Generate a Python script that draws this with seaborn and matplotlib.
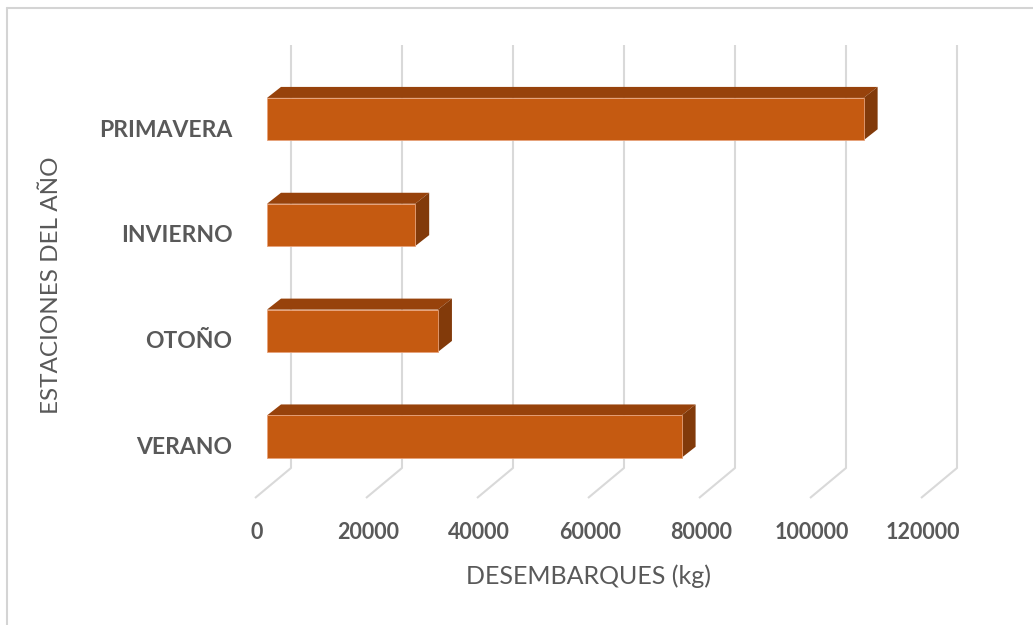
import matplotlib
matplotlib.use("Agg")
import matplotlib.pyplot as plt
import matplotlib.transforms as mtransforms
from matplotlib.patches import Polygon
from matplotlib.lines import Line2D
import seaborn as sns
import pandas as pd

# ---- data ----
seasons = ["PRIMAVERA", "INVIERNO", "OTOÑO", "VERANO"]
landings_kg = [107500, 26700, 30800, 74700]
x_ticks = [0, 20000, 40000, 60000, 80000, 100000, 120000]
x_title = "DESEMBARQUES (kg)"
y_title = "ESTACIONES DEL AÑO"

df = pd.DataFrame({"season": seasons, "kg": landings_kg})

sns.set_theme(style="white")
plt.rcParams["font.family"] = ["Lato", "DejaVu Sans"]

W, H, DPI = 1033, 625, 100
fig = plt.figure(figsize=(W / DPI, H / DPI), dpi=DPI)
ax = fig.add_axes([267 / W, (H - 498) / H, 700 / W, 453 / H])

front = "#C55A11"
top_c = "#97420B"
side_c = "#823A0A"
grid_c = "#D9D9D9"
text_c = "#595959"

sns.barplot(data=df, x="kg", y="season", order=seasons, orient="h",
            color=front, saturation=1, width=0.4, ax=ax, zorder=3,
            edgecolor="#E8A27A", linewidth=0.6)

ax.set_xlim(0, 700 / 111 * 20000)
ax.set_ylim(3.58, -0.70)
fig.canvas.draw()

def off(x, y, dxp, dyp):
    """data point shifted by pixel offset (dyp positive = up)"""
    px, py = ax.transData.transform((x, y))
    return ax.transData.inverted().transform((px + dxp, py + dyp))

# 3D faces of bars
DX, DY = 14, 11
for p in ax.patches:
    x0, w = p.get_x(), p.get_width()
    y0, h = p.get_y(), p.get_height()
    ytop = min(y0, y0 + h)
    ybot = max(y0, y0 + h)
    x1 = x0 + w
    top = [(x0, ytop), (x1, ytop), tuple(off(x1, ytop, DX, DY)), tuple(off(x0, ytop, DX, DY))]
    side = [(x1, ytop), tuple(off(x1, ytop, DX, DY)), tuple(off(x1, ybot, DX, DY)), (x1, ybot)]
    ax.add_patch(Polygon(top, closed=True, facecolor=top_c, edgecolor="none", zorder=2.9))
    ax.add_patch(Polygon(side, closed=True, facecolor=side_c, edgecolor="none", zorder=2.9))

# gridlines on back wall + floor
ylo, yhi = ax.get_ylim()
floor_back_y = ax.transData.inverted().transform((0, fig.bbox.height - 468))[1]
for v in x_ticks:
    xb_top = off(v, yhi, 24, 0)
    xb_bot = off(v, floor_back_y, 24, 0)
    xf = off(v, ylo, -12, 0)
    ax.plot([xb_top[0], xb_bot[0], xf[0]], [yhi, floor_back_y, ylo],
            color=grid_c, lw=1.5, zorder=1, clip_on=False, solid_capstyle="butt")

for s in ax.spines.values():
    s.set_visible(False)

ax.set_xticks(x_ticks)
ax.set_xticklabels([str(v) for v in x_ticks])
ax.tick_params(axis="x", length=0, pad=17, labelsize=15.5, labelcolor=text_c)
ax.tick_params(axis="y", length=0, pad=25, labelsize=16.5, labelcolor=text_c)
for lab in ax.get_xticklabels():
    lab.set_fontweight("bold")
    lab.set_transform(lab.get_transform() + mtransforms.ScaledTranslation(-10 / DPI, 0, fig.dpi_scale_trans))
for lab in ax.get_yticklabels():
    lab.set_fontweight("bold")
    lab.set_transform(lab.get_transform() + mtransforms.ScaledTranslation(0, -9 / DPI, fig.dpi_scale_trans))

ax.set_xlabel(x_title, fontsize=18, color=text_c)
ax.set_ylabel(y_title, fontsize=17.5, color=text_c)
ax.xaxis.set_label_coords((588 - 267) / 700, (498 - 564) / 453)
ax.yaxis.set_label_coords((62 - 267) / 700, (498 - 285) / 453)

# chart frame (only top and left edges visible in the crop)
fig.lines.append(Line2D([6.5 / W, 1], [1 - 7.5 / H, 1 - 7.5 / H], transform=fig.transFigure,
                        color="#D4D4D4", lw=1.5))
fig.lines.append(Line2D([6.5 / W, 6.5 / W], [0, 1 - 7.5 / H], transform=fig.transFigure,
                        color="#D4D4D4", lw=1.5))

fig.savefig("out.png", dpi=DPI, facecolor="white")
